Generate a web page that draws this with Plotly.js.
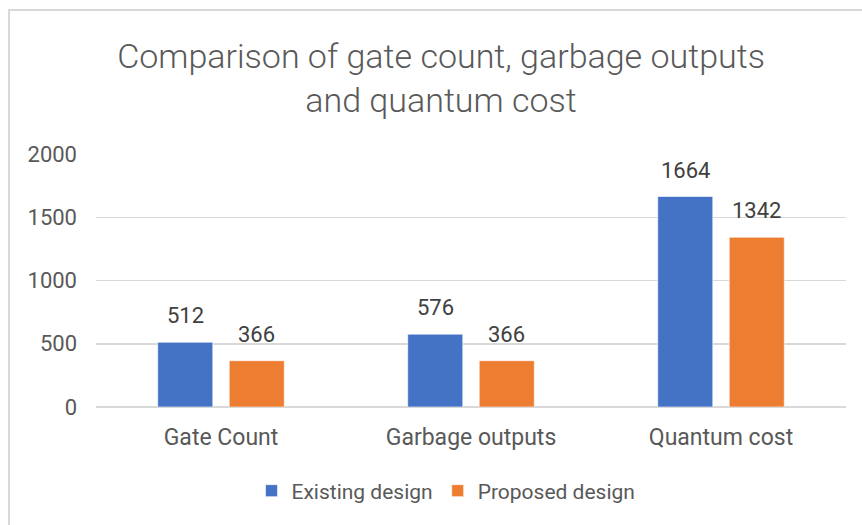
<!DOCTYPE html>
<html>
<head>
<meta charset="utf-8">
<script src="https://cdn.plot.ly/plotly-3.0.1.min.js"></script>
<style>
  html, body { margin: 0; padding: 0; background: #fff; }
  #wrap { position: relative; width: 862px; height: 525px; overflow: hidden; }
  #chart { position: absolute; left: 0; top: 0; width: 862px; height: 525px; }
  #frame { position: absolute; left: 8px; top: 9px; width: 900px; height: 600px;
           border-top: 2px solid #d9d9d9; border-left: 2px solid #d9d9d9; pointer-events: none; }
</style>
</head>
<body>
<div id="wrap">
  <div id="chart"></div>
  <div id="frame"></div>
</div>
<script>
const categories = ["Gate Count", "Garbage outputs", "Quantum cost"];
const seriesNames = ["Existing design", "Proposed design"];
const existingValues = [512, 576, 1664];
const proposedValues = [366, 366, 1342];
const yTickValues = [0, 500, 1000, 1500, 2000];
const titleText = "Comparison of gate count, garbage outputs<br>and quantum cost";

const FONT = "Roboto, 'Liberation Sans', Arial, sans-serif";
const colors = ["#4472C4", "#ED7D31"];

const traces = [existingValues, proposedValues].map((vals, i) => ({
  type: "bar",
  name: seriesNames[i],
  x: categories,
  y: vals,
  marker: { color: colors[i], line: { color: "rgba(255,255,255,0.6)", width: 1 } },
  textposition: "none",
  hoverinfo: "x+y"
}));

const annotations = [];
[existingValues, proposedValues].forEach((vals, i) => {
  vals.forEach((v, j) => {
    annotations.push({
      x: categories[j], y: v, xref: "x", yref: "y",
      text: String(v), showarrow: false,
      xanchor: "center", yanchor: "bottom",
      xshift: i === 0 ? -35.75 : 35.75, yshift: 12,
      font: { family: FONT, size: 22, color: "#404040" }
    });
  });
});

const layout = {
  width: 862, height: 525,
  margin: { l: 96, r: 16, t: 154, b: 118 },
  paper_bgcolor: "#ffffff", plot_bgcolor: "#ffffff",
  title: {
    text: titleText,
    font: { family: FONT, size: 34, color: "#595959", weight: 300 },
    x: 441 / 862, xref: "container", xanchor: "center",
    y: 1 - 68 / 525, yref: "container", yanchor: "top"
  },
  barmode: "group",
  bargap: 0.428,
  bargroupgap: 0.23,
  showlegend: true,
  legend: {
    orientation: "h",
    x: (446 - 96) / 750, xanchor: "center",
    y: -0.332, yanchor: "middle",
    font: { family: FONT, size: 21, color: "#595959" },
    itemwidth: 30
  },
  xaxis: {
    type: "category",
    tickfont: { family: FONT, size: 23, color: "#595959" },
    showgrid: false, zeroline: false, showline: false,
    ticks: "", ticklabelstandoff: 14
  },
  yaxis: {
    range: [0, 2000],
    tickvals: yTickValues,
    ticktext: yTickValues.map(String),
    tickfont: { family: FONT, size: 22, color: "#595959" },
    gridcolor: "#d9d9d9", gridwidth: 1.5,
    zeroline: true, zerolinecolor: "#d9d9d9", zerolinewidth: 1.5,
    showline: false, ticks: "", ticklabelstandoff: 18
  },
  annotations: annotations,
  font: { family: FONT, color: "#595959" }
};

Plotly.newPlot("chart", traces, layout, { displayModeBar: false, staticPlot: true });
</script>
</body>
</html>
